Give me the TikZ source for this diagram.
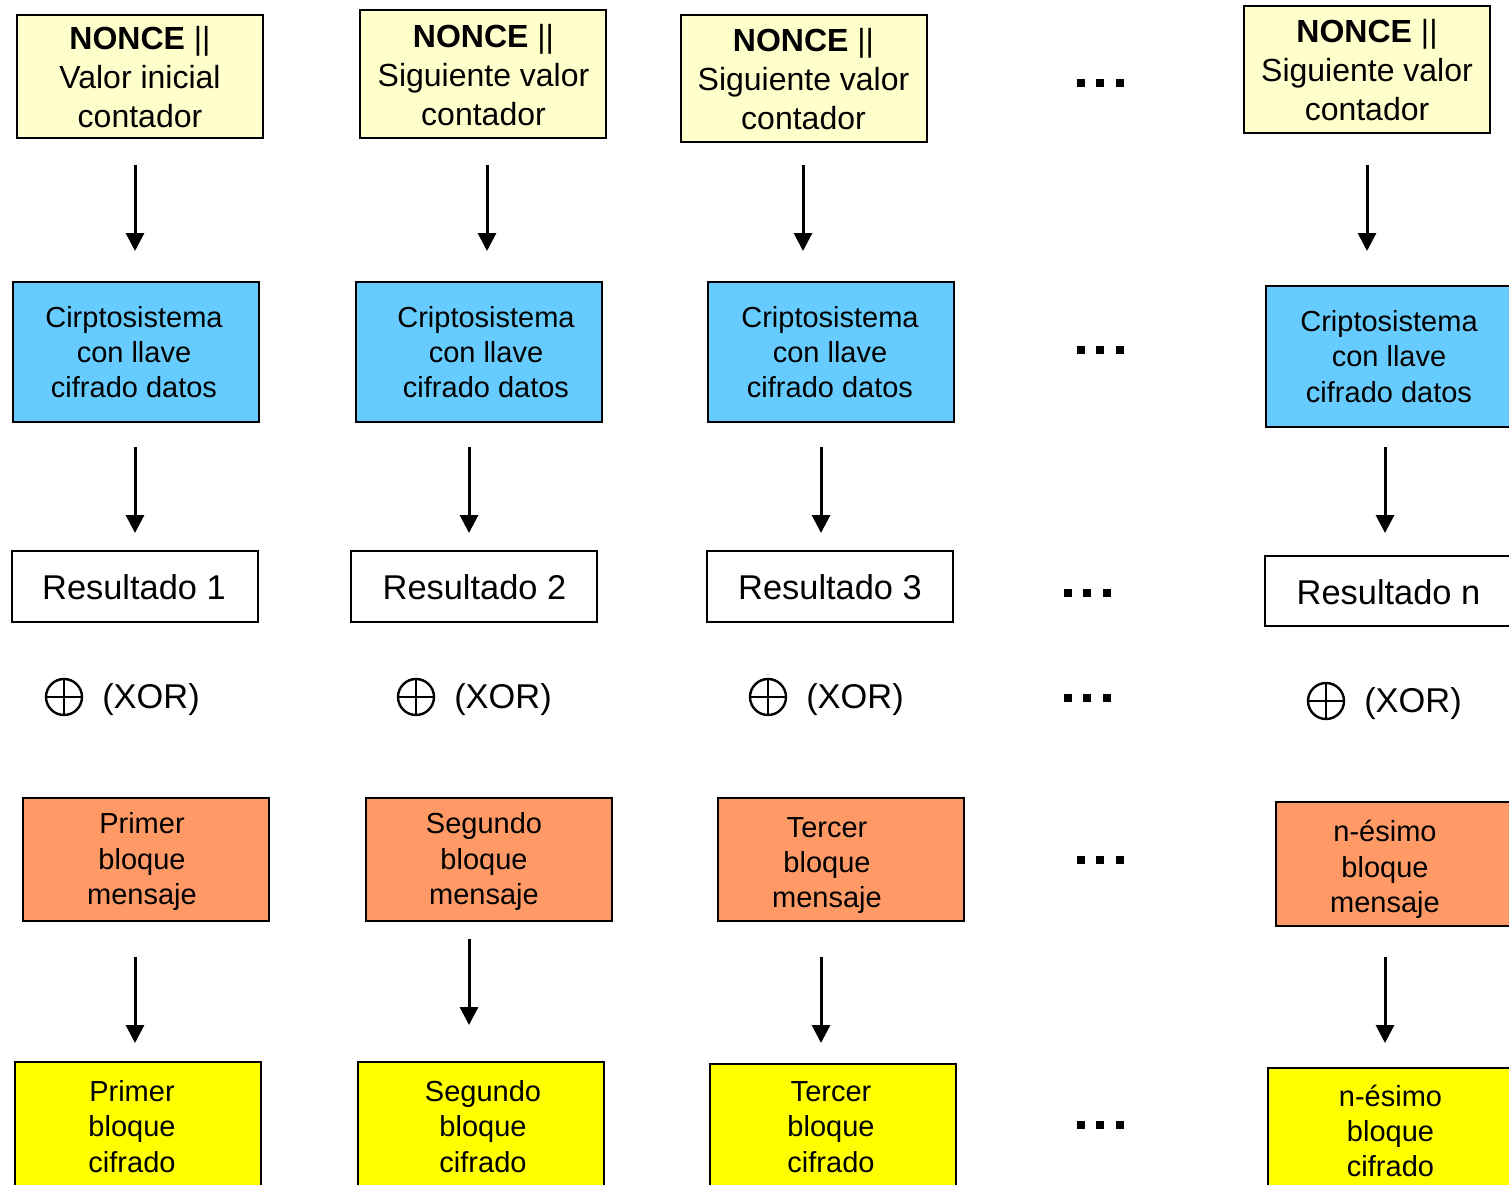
\documentclass[tikz,border=0pt]{standalone}
\usepackage{fontspec}
\setmainfont{Liberation Sans}
\usetikzlibrary{arrows.meta}

\definecolor{nonceyellow}{HTML}{FFFFCC}
\definecolor{cipherblue}{HTML}{66CCFF}
\definecolor{plainorange}{HTML}{FF9966}
\definecolor{cipheryellow}{HTML}{FFFF00}

\newcommand{\sq}{\rule{4pt}{4pt}}

\tikzset{
  box/.style={draw=black, line width=1pt, minimum width=123pt, inner sep=0pt},
  noncebox/.style={box, fill=nonceyellow},
  cipherbox/.style={box, fill=cipherblue, minimum height=70pt},
  resultbox/.style={box, fill=white, minimum height=35.5pt},
  plainbox/.style={box, fill=plainorange, minimum height=61.5pt},
  outbox/.style={box, fill=cipheryellow, minimum height=66pt},
  lbl/.style={align=center, inner sep=0pt, font=\fontsize{14.5pt}{17.6pt}\selectfont},
  noncelbl/.style={align=center, inner sep=0pt, font=\fontsize{16pt}{19.5pt}\selectfont},
  biglbl/.style={inner sep=0pt, font=\fontsize{17.2pt}{20pt}\selectfont},
  flow/.style={line width=1.5pt, -{Triangle[width=9pt,length=9pt]}},
  xorsym/.style={draw, circle, line width=1.2pt, minimum size=18pt, inner sep=0pt},
  more/.style={inner sep=0pt}
}

\begin{document}
\begin{tikzpicture}[x=0.5pt, y=-0.5pt]
  \useasboundingbox (0,0) rectangle (1509,1184);
  \clip (0,0) rectangle (1509,1184);
  \fill[white] (0,0) rectangle (1509,1184);

  % counter blocks
  \node[noncebox, minimum height=61.5pt] (n1) at (140,76.5) {};
  \node[noncebox, minimum height=64pt]   (n2) at (483,74) {};
  \node[noncebox, minimum height=63.5pt] (n3) at (804,78.5) {};
  \node[noncebox, minimum height=63.5pt] (n4) at (1367,69.5) {};
  \node[noncelbl] (n1t) at (140,77) {{\bfseries NONCE} ||\\Valor inicial\\contador};
  \node[noncelbl] (n2t) at (483.5,75) {{\bfseries NONCE} ||\\Siguiente valor\\contador};
  \node[noncelbl] (n3t) at (803.5,79) {{\bfseries NONCE} ||\\Siguiente valor\\contador};
  \node[noncelbl] (n4t) at (1367,70.5) {{\bfseries NONCE} ||\\Siguiente valor\\contador};

  % block cipher
  \node[cipherbox] (c1) at (135.5,352) {};
  \node[cipherbox] (c2) at (479,352) {};
  \node[cipherbox] (c3) at (831,352) {};
  \node[cipherbox, minimum height=70.5pt] (c4) at (1389,356.5) {};
  \node[lbl] (c1t) at (134,352) {Cirptosistema\\con llave\\cifrado datos};
  \node[lbl] (c2t) at (486,352) {Criptosistema\\con llave\\cifrado datos};
  \node[lbl] (c3t) at (830,352) {Criptosistema\\con llave\\cifrado datos};
  \node[lbl] (c4t) at (1389,356.5) {Criptosistema\\con llave\\cifrado datos};

  % keystream results
  \node[resultbox] (r1) at (135,586.5) {};
  \node[resultbox] (r2) at (474,586.5) {};
  \node[resultbox] (r3) at (830,586.5) {};
  \node[resultbox, minimum height=35pt] (r4) at (1388,591) {};
  \node[biglbl] (r1t) at (134,587) {Resultado 1};
  \node[biglbl] (r2t) at (474.5,587) {Resultado 2};
  \node[biglbl] (r3t) at (830,587) {Resultado 3};
  \node[biglbl] (r4t) at (1388.5,592) {Resultado n};

  % xor markers
  \foreach \cx/\tx/\yy/\ty [count=\i] in {64/151/697/700, 416/503/697/700, 768/855/697/700, 1326/1413/701/704} {
    \node[xorsym] (x\i) at (\cx,\yy) {};
    \draw[line width=1.2pt] (x\i.north) -- (x\i.south) (x\i.west) -- (x\i.east);
    \node[biglbl] (x\i t) at (\tx,\ty) {(XOR)};
  }

  % plaintext blocks
  \node[plainbox] (p1) at (145.5,859.5) {};
  \node[plainbox] (p2) at (489,859.5) {};
  \node[plainbox] (p3) at (841,859.5) {};
  \node[plainbox, minimum height=62pt] (p4) at (1399,864) {};
  \node[lbl] (p1t) at (142,861.5) {Primer\\bloque\\mensaje};
  \node[lbl] (p2t) at (484,861.5) {Segundo\\bloque\\mensaje};
  \node[lbl] (p3t) at (827,865.5) {Tercer\\bloque\\mensaje};
  \node[lbl] (p4t) at (1385,869.5) {n-ésimo\\bloque\\mensaje};

  % ciphertext blocks (running past the lower edge)
  \node[outbox] (o1) at (137.5,1128) {};
  \node[outbox] (o2) at (481,1128) {};
  \node[outbox] (o3) at (833,1130) {};
  \node[outbox] (o4) at (1391,1134) {};
  \node[lbl] (o1t) at (132,1126.5) {Primer\\bloque\\cifrado};
  \node[lbl] (o2t) at (483,1126.5) {Segundo\\bloque\\cifrado};
  \node[lbl] (o3t) at (831,1127) {Tercer\\bloque\\cifrado};
  \node[lbl] (o4t) at (1390.5,1131) {n-ésimo\\bloque\\cifrado};

  % flow arrows
  \foreach \ax/\ya/\yb [count=\i] in {
      135/165/251, 487/165/251, 803/165/251, 1367/165/251,
      135/447/533, 469/447/533, 821/447/533, 1385/447/533,
      135/957/1043, 469/939/1025, 821/957/1043, 1385/957/1043} {
    \coordinate (fs\i) at (\ax,\ya);
    \coordinate (fe\i) at (\ax,\yb);
    \draw[flow] (fs\i) -- (fe\i);
  }

  % continuation marks
  \foreach \dx/\dy [count=\i] in {1100/83, 1100/350, 1087/593, 1087/698, 1100/860, 1100/1125} {
    \node[more] (dots\i) at (\dx,\dy) {\sq\hspace{5.75pt}\sq\hspace{5.75pt}\sq};
  }
\end{tikzpicture}
\end{document}
